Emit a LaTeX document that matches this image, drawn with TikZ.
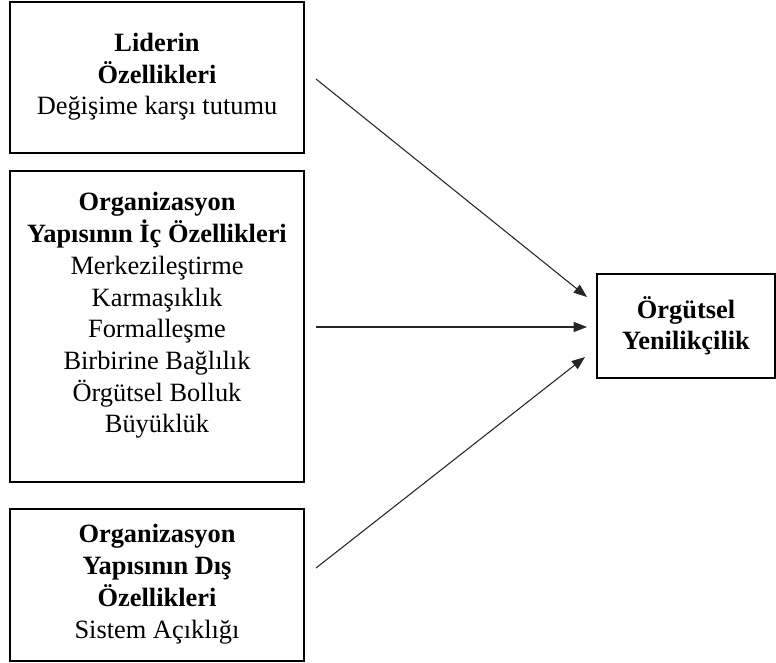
\documentclass[tikz,border=0pt]{standalone}
\usepackage{fontspec}
\setmainfont{Liberation Serif}
\usetikzlibrary{arrows.meta}
\begin{document}
\begin{tikzpicture}[x=0.75pt,y=-0.75pt,
  box/.style={draw, line width=0.9pt, inner sep=0pt},
  txt/.style={align=center, font=\fontsize{19.8}{23.8}\selectfont, inner sep=0pt},
  arr/.style={-{Triangle[length=10pt,width=7.5pt]}, line width=0.8pt, draw=black!85}]
\useasboundingbox (0,0) rectangle (776,663);
% boxes
\node[box, minimum width=220.5pt, minimum height=113.25pt] (b1) at (157,77.5) {};
\node[box, minimum width=220.5pt, minimum height=233.25pt] (b2) at (157,326.5) {};
\node[box, minimum width=220.5pt, minimum height=114pt] (b3) at (157,585) {};
\node[box, minimum width=133.5pt, minimum height=78pt] (b4) at (686,326) {};
% texts (base anchor = last line)
\node[txt, anchor=base] (t1) at (157,115) {\textbf{Liderin}\\\textbf{Özellikleri}\\Değişime karşı tutumu};
\node[txt, anchor=base] (t2) at (157,433) {\textbf{Organizasyon}\\\textbf{Yapısının İç Özellikleri}\\Merkezileştirme\\Karmaşıklık\\Formalleşme\\Birbirine Bağlılık\\Örgütsel Bolluk\\Büyüklük};
\node[txt, anchor=base] (t3) at (157,638) {\textbf{Organizasyon}\\\textbf{Yapısının Dış}\\\textbf{Özellikleri}\\Sistem Açıklığı};
\node[txt, anchor=base] (t4) at (686,350) {\textbf{Örgütsel}\\\textbf{Yenilikçilik}};
% arrow ends
\coordinate (s1) at (316,79);
\coordinate (e1) at (587,297);
\coordinate (s2) at (316,327);
\coordinate (e2) at (587,327);
\coordinate (s3) at (316,568);
\coordinate (e3) at (585,357);
\draw[arr] (s1) -- (e1);
\draw[arr] (s2) -- (e2);
\draw[arr] (s3) -- (e3);
\end{tikzpicture}
\end{document}
